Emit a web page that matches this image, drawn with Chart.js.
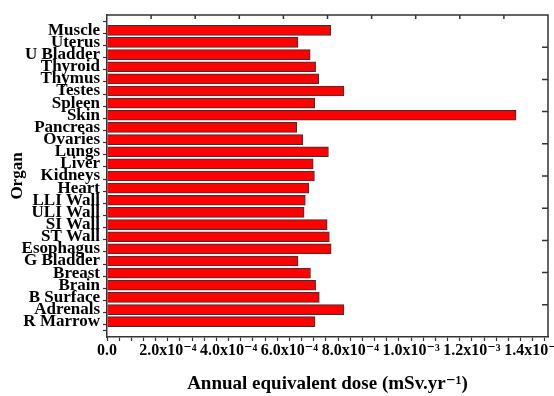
<!DOCTYPE html>
<html>
<head>
<meta charset="utf-8">
<script src="https://cdn.jsdelivr.net/npm/chart.js@4/dist/chart.umd.min.js"></script>
<style>
  html, body { margin: 0; padding: 0; background: #fff; }
</style>
</head>
<body>
<canvas id="chart" width="554" height="396"></canvas>
<script>
// organs listed top to bottom, as in the figure
const ORGANS = [
  'Muscle', 'Uterus', 'U Bladder', 'Thyroid', 'Thymus', 'Testes', 'Spleen', 'Skin',
  'Pancreas', 'Ovaries', 'Lungs', 'Liver', 'Kidneys', 'Heart', 'LLI Wall', 'ULI Wall',
  'SI Wall', 'ST Wall', 'Esophagus', 'G Bladder', 'Breast', 'Brain', 'B Surface',
  'Adrenals', 'R Marrow'
];

// annual equivalent dose, mSv/yr
const DOSES = [
  7.36e-4, 6.28e-4, 6.68e-4, 6.86e-4, 6.96e-4, 7.79e-4, 6.83e-4, 13.45e-4,
  6.24e-4, 6.44e-4, 7.28e-4, 6.78e-4, 6.82e-4, 6.63e-4, 6.52e-4, 6.48e-4,
  7.24e-4, 7.31e-4, 7.37e-4, 6.28e-4, 6.69e-4, 6.86e-4, 6.98e-4,
  7.79e-4, 6.84e-4
];

const X_TICK_VALUES = [0, 2e-4, 4e-4, 6e-4, 8e-4, 1e-3, 1.2e-3, 1.4e-3];
const X_TICK_LABELS = [
  '0.0', '2.0x10\u207B\u2074', '4.0x10\u207B\u2074', '6.0x10\u207B\u2074', '8.0x10\u207B\u2074',
  '1.0x10\u207B\u00B3', '1.2x10\u207B\u00B3', '1.4x10\u207B\u00B3'
];
const X_MAX = 1.45e-3;

const AXIS_COLOR = '#333333';
const SERIF = '"Liberation Serif", "DejaVu Serif", serif';

// closes the box and adds the small inward ticks on top and right
const framePlugin = {
  id: 'frame',
  afterDraw(chart) {
    const { ctx, chartArea: area } = chart;
    ctx.save();
    ctx.strokeStyle = AXIS_COLOR;
    ctx.lineWidth = 1.5;
    ctx.beginPath();
    ctx.moveTo(area.left, area.top);
    ctx.lineTo(area.right, area.top);
    ctx.lineTo(area.right, area.bottom);
    for (let k = 1; k < 10; k++) {
      const x = area.left + (area.right - area.left) * k / 10;
      ctx.moveTo(x, area.top);
      ctx.lineTo(x, area.top + 4);
      const y = area.top + (area.bottom - area.top) * k / 10;
      ctx.moveTo(area.right, y);
      ctx.lineTo(area.right - 6, y);
    }
    ctx.stroke();
    ctx.restore();
  }
};

function majorIndex(value) {
  return X_TICK_VALUES.findIndex((t) => Math.abs(t - value) < 1e-9);
}

new Chart(document.getElementById('chart'), {
  type: 'bar',
  data: {
    datasets: [{
      data: ORGANS.map((name, i) => ({ x: DOSES[i], y: i + 1 })),
      backgroundColor: '#ff0000',
      borderColor: '#333333',
      borderWidth: 1,
      barThickness: 10
    }]
  },
  options: {
    indexAxis: 'y',
    responsive: false,
    devicePixelRatio: 1,
    animation: false,
    layout: { padding: { top: 15, right: 6, left: 0, bottom: 0 } },
    plugins: {
      legend: { display: false },
      tooltip: { enabled: false }
    },
    scales: {
      x: {
        type: 'linear',
        min: 0,
        max: X_MAX,
        afterBuildTicks(scale) {
          const step = X_TICK_VALUES[1] / 5;
          const ticks = [];
          for (let k = 0; k * step <= X_MAX + 1e-12; k++) ticks.push({ value: k * step });
          scale.ticks = ticks;
        },
        ticks: {
          autoSkip: false,
          maxRotation: 0,
          minRotation: 0,
          padding: 0,
          color: '#000',
          font: { family: SERIF, size: 16, weight: 'bold' },
          callback: (value) => {
            const i = majorIndex(value);
            return i >= 0 ? X_TICK_LABELS[i] : '';
          }
        },
        grid: {
          drawOnChartArea: false,
          tickLength: 4,
          tickWidth: 1.2,
          tickColor: AXIS_COLOR
        },
        border: { color: AXIS_COLOR, width: 1.5 },
        title: {
          display: true,
          text: 'Annual equivalent dose (mSv.yr\u207B\u00B9)',
          color: '#000',
          padding: { top: 2, bottom: 1 },
          font: { family: SERIF, size: 19, weight: 'bold' }
        },
        afterFit(scale) {
          scale.height = 59;
          scale.paddingLeft = 0;
          scale.paddingRight = 0;
        }
      },
      y: {
        type: 'linear',
        reverse: true,
        min: 0,
        max: ORGANS.length + 1,
        afterBuildTicks(scale) {
          const ticks = [];
          for (let k = 1; k <= ORGANS.length * 2 + 1; k++) ticks.push({ value: k / 2 });
          scale.ticks = ticks;
        },
        ticks: {
          autoSkip: false,
          padding: 3,
          color: '#000',
          font: { family: SERIF, size: 17, weight: 'bold' },
          callback: (value) => (Number.isInteger(value) ? ORGANS[value - 1] : '')
        },
        grid: {
          drawOnChartArea: false,
          tickLength: 4,
          tickWidth: 1.2,
          tickColor: (ctx) => (ctx.tick && Number.isInteger(ctx.tick.value) ? 'rgba(0,0,0,0)' : AXIS_COLOR)
        },
        border: { color: AXIS_COLOR, width: 1.5 },
        title: {
          display: true,
          text: 'Organ',
          color: '#000',
          padding: { top: 7, bottom: 2 },
          font: { family: SERIF, size: 17, weight: 'bold' }
        },
        afterFit(scale) {
          scale.width = 107;
          scale.paddingTop = 0;
          scale.paddingBottom = 0;
        }
      }
    }
  },
  plugins: [framePlugin]
});
</script>
</body>
</html>
